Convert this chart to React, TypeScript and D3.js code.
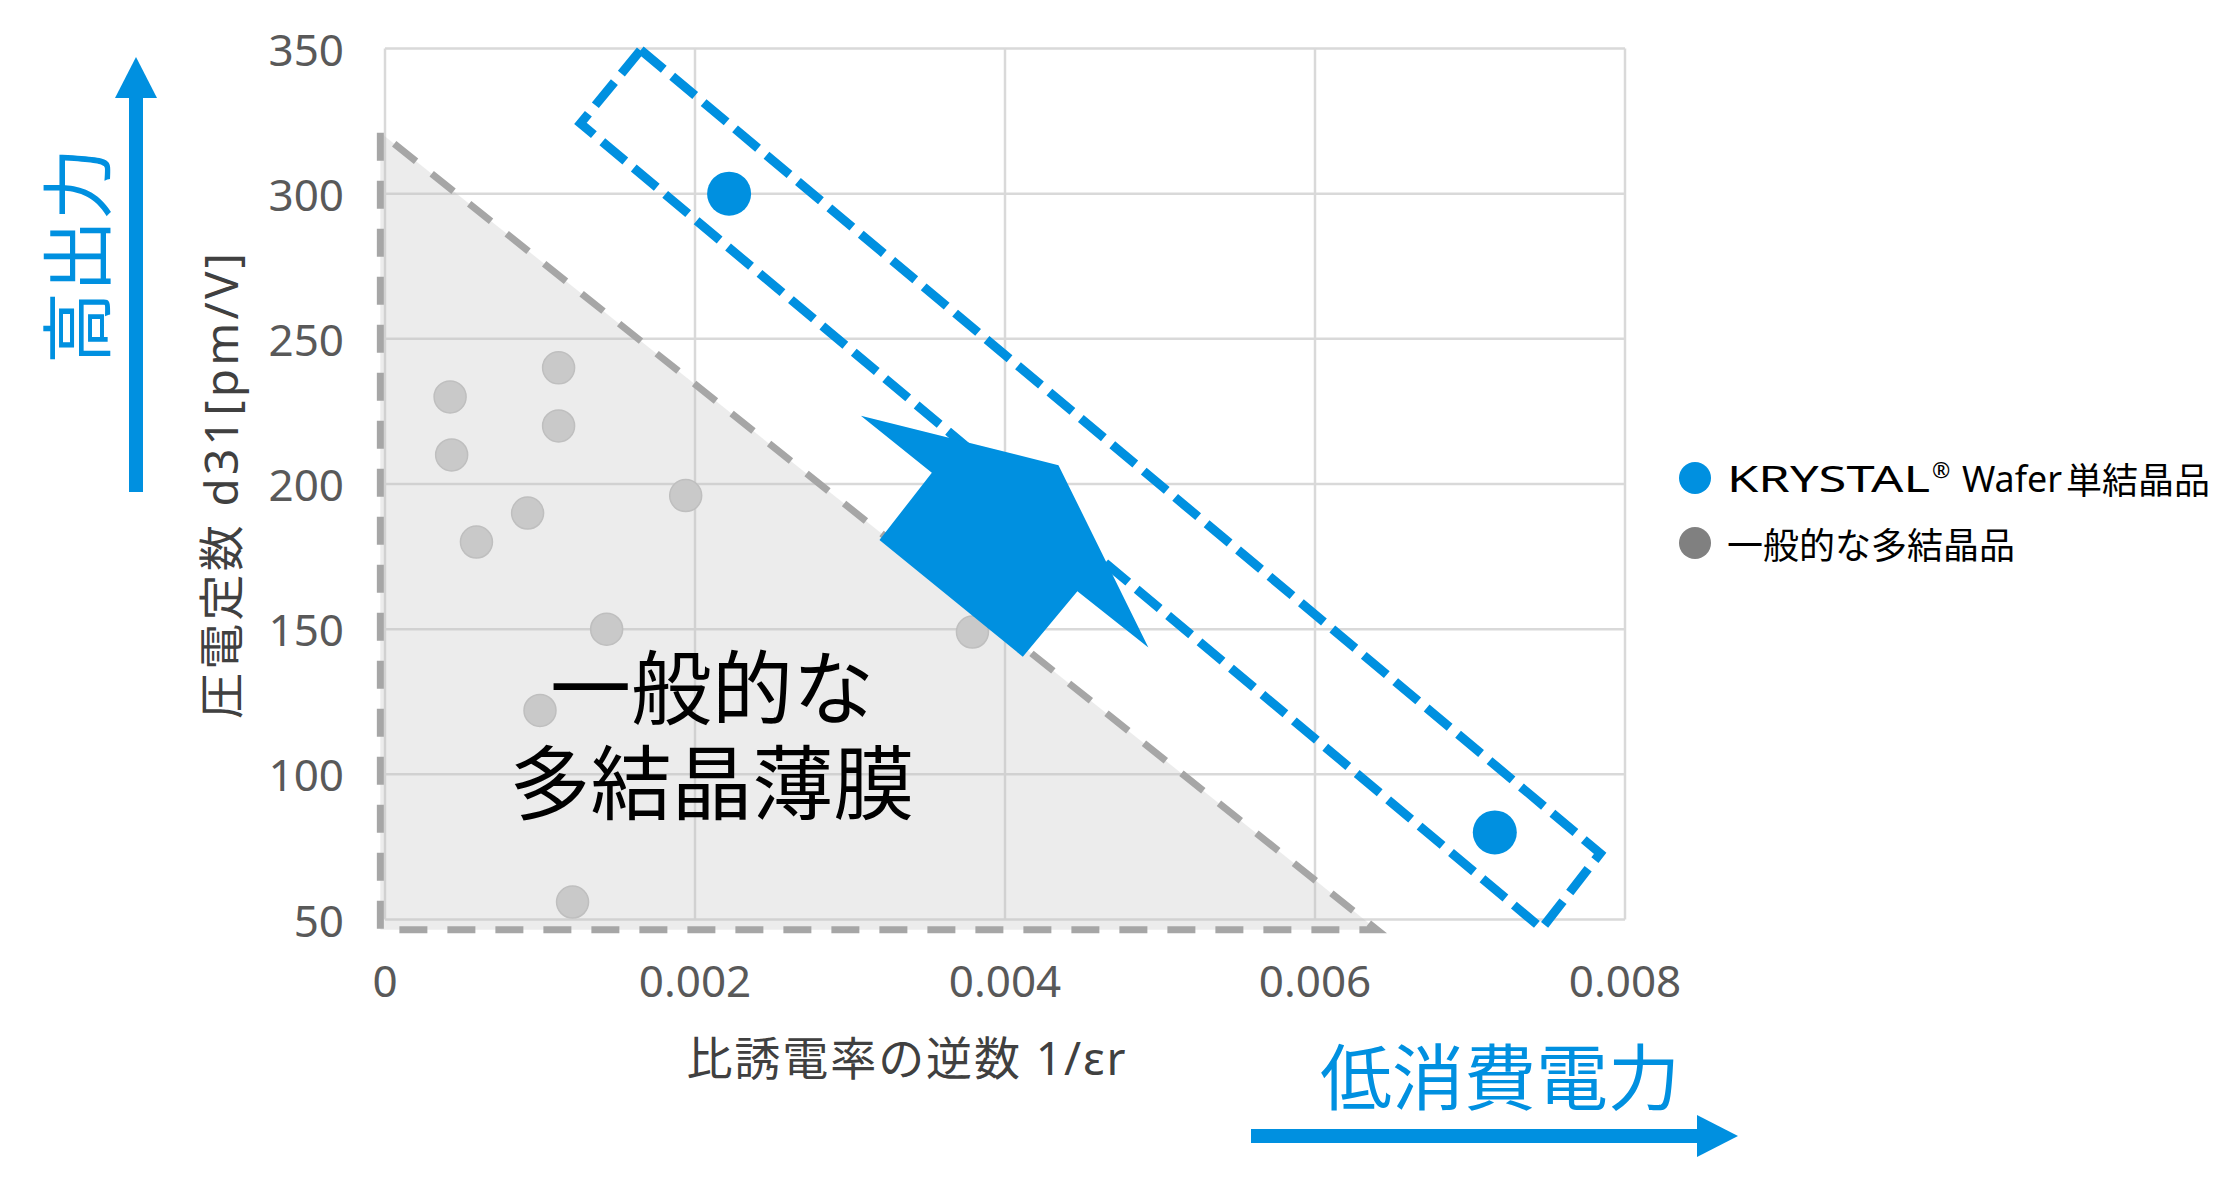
import React from 'react';
import * as d3 from 'd3';

// ---- axis ticks ----
const xTicks = [0, 0.002, 0.004, 0.006, 0.008];
const xTickLabels = ['0', '0.002', '0.004', '0.006', '0.008'];
const yTicks = [50, 100, 150, 200, 250, 300, 350];
const yTickLabels = ['50', '100', '150', '200', '250', '300', '350'];

// ---- series ----
const seriesNames = ['KRYSTAL® Wafer単結晶品', '一般的な多結晶品'];
const krystalX = [0.00222, 0.00716];
const krystalY = [300, 80];
const polyX = [0.00042, 0.00043, 0.00059, 0.00092, 0.00112, 0.00112, 0.00194, 0.00143, 0.001, 0.00121, 0.00379];
const polyY = [230, 210, 180, 190, 240, 220, 196, 150, 122, 56, 149];

// ---- texts ----
const xTitle = '比誘電率の逆数 1/εr';
const yTitle = '圧電定数 d31[pm/V]';
const regionLabel = ['一般的な', '多結晶薄膜'];
const upLabel = '高出力';
const rightLabel = '低消費電力';

// ---- annotation shapes (data coordinates) ----
const regionX = [-0.00003, -0.00003, 0.0064];
const regionY = [321, 46.5, 46.5];
const bandX = [0.00165, 0.00784, 0.007463, 0.001261];
const bandY = [349.5, 72.8, 46.9, 324.2];
const arrowX = [0.00307, 0.004345, 0.004925, 0.004467, 0.004115, 0.00319, 0.003528];
const arrowY = [223.5, 206.5, 143.7, 163.1, 140.5, 180.7, 203.9];

const BLUE = '#0090E0';
const LATIN = "'Noto Sans', 'Noto Sans CJK JP', sans-serif";
const CJK = "'Noto Sans CJK JP', 'Noto Sans', sans-serif";

function KrystalLabel({ name, x0, cy }: { name: string; x0: number; cy: number }) {
  // split "KRYSTAL® Wafer単結晶品" into its latin and CJK parts
  const [brand, rest] = name.split('®');
  const m = rest.trim().match(/^([A-Za-z]+)(.*)$/);
  const word = m ? m[1] : rest.trim();
  const cjk = m ? m[2] : '';
  return (
    <g fontFamily={LATIN} fill="#000">
      <text x={x0} y={cy} dominantBaseline="central" fontSize={36} textLength={203} lengthAdjust="spacingAndGlyphs">{brand}</text>
      <text x={x0 + 205} y={cy - 9} dominantBaseline="central" fontSize={22}>®</text>
      <text x={x0 + 235} y={cy} dominantBaseline="central" fontSize={36} textLength={100} lengthAdjust="spacingAndGlyphs">{word}</text>
      <text x={x0 + 339} y={cy} dominantBaseline="central" fontSize={36} fontFamily={CJK}>{cjk}</text>
    </g>
  );
}

export default function App() {
  const W = 2235;
  const H = 1179;
  const x = d3.scaleLinear().domain([0, 0.008]).range([385, 1625]);
  const y = d3.scaleLinear().domain([50, 350]).range([919.5, 48.5]);
  const line = d3.line();
  const poly = (xs: number[], ys: number[]) =>
    line(xs.map((v, i) => [x(v), y(ys[i])] as [number, number])) + 'Z';

  const legendX = 1695;
  const legendY = [478, 543];
  const legendColors = [BLUE, '#808080'];

  return (
    <svg
      width={W}
      height={H}
      viewBox={`0 0 ${W} ${H}`}
      style={{ position: 'absolute', left: 0, top: 0, display: 'block', background: '#fff' }}
    >
      <rect x={0} y={0} width={W} height={H} fill="#fff" />
      {/* gridlines */}
      {yTicks.map((t) => (
        <line key={'gy' + t} x1={x(0)} x2={x(0.008)} y1={y(t)} y2={y(t)} stroke="#d9d9d9" strokeWidth={2.5} />
      ))}
      {xTicks.map((t) => (
        <line key={'gx' + t} x1={x(t)} x2={x(t)} y1={y(50)} y2={y(350)} stroke="#d9d9d9" strokeWidth={2.5} />
      ))}

      {/* tick labels */}
      {yTicks.map((t, i) => (
        <text key={'ty' + t} x={344} y={y(t)} textAnchor="end" dominantBaseline="central"
          fontFamily={LATIN} fontSize={44} fill="#595959">{yTickLabels[i]}</text>
      ))}
      {xTicks.map((t, i) => (
        <text key={'tx' + t} x={x(t)} y={980} textAnchor="middle" dominantBaseline="central"
          fontFamily={LATIN} fontSize={44} fill="#595959">{xTickLabels[i]}</text>
      ))}

      {/* polycrystal region */}
      <path d={poly(regionX, regionY)} fill="rgba(191,191,191,0.3)" stroke="none" />
      <path d={poly(regionX, regionY)} fill="none" stroke="#a6a6a6" strokeWidth={7} strokeDasharray="28 20" />

      {/* polycrystal points */}
      {polyX.map((v, i) => (
        <circle key={'p' + i} cx={x(v)} cy={y(polyY[i])} r={16} fill="#c9c9c9" stroke="#bfbfbf" strokeWidth={1.5} />
      ))}

      {/* krystal band */}
      <path d={poly(bandX, bandY)} fill="none" stroke={BLUE} strokeWidth={9} strokeDasharray="30 11" />

      {/* krystal points */}
      {krystalX.map((v, i) => (
        <circle key={'k' + i} cx={x(v)} cy={y(krystalY[i])} r={22} fill={BLUE} />
      ))}

      {/* big arrow */}
      <path d={poly(arrowX, arrowY)} fill={BLUE} />

      {/* region label (one text block, two lines) */}
      <text textAnchor="middle" dominantBaseline="central" fontFamily={CJK} fontSize={81} fill="#000">
        {regionLabel.map((s, i) => (
          <tspan key={'rl' + i} x={712} y={682 + i * 95}>{s}</tspan>
        ))}
      </text>

      {/* axis titles */}
      <text x={906} y={1057} textAnchor="middle" dominantBaseline="central" fontFamily={LATIN}
        fontSize={46} fill="#404040" textLength={439} lengthAdjust="spacing">{xTitle}</text>
      <text transform="translate(220,486) rotate(-90)" textAnchor="middle" dominantBaseline="central"
        fontFamily={LATIN} fontSize={46} fill="#404040" textLength={466} lengthAdjust="spacing">{yTitle}</text>

      {/* up arrow + label */}
      <rect x={129} y={95} width={14} height={397} fill={BLUE} />
      <path d="M136,57 L157,98 L115,98 Z" fill={BLUE} />
      <text transform="translate(72,256) rotate(-90)" textAnchor="middle" dominantBaseline="central"
        fontFamily={CJK} fontSize={72} fill={BLUE}>{upLabel}</text>

      {/* right arrow + label */}
      <rect x={1251} y={1129} width={448} height={14} fill={BLUE} />
      <path d="M1738,1136 L1697,1115 L1697,1157 Z" fill={BLUE} />
      <text x={1500} y={1072} textAnchor="middle" dominantBaseline="central" fontFamily={CJK}
        fontSize={72} fill={BLUE}>{rightLabel}</text>

      {/* legend */}
      {seriesNames.map((s, i) => (
        <g key={'lg' + i}>
          <circle cx={legendX} cy={legendY[i]} r={16} fill={legendColors[i]} />
          {i === 0 ? (
            <KrystalLabel name={s} x0={1727} cy={legendY[i]} />
          ) : (
            <text x={1727} y={legendY[i]} dominantBaseline="central" fontFamily={CJK} fontSize={36} fill="#000">{s}</text>
          )}
        </g>
      ))}
    </svg>
  );
}
